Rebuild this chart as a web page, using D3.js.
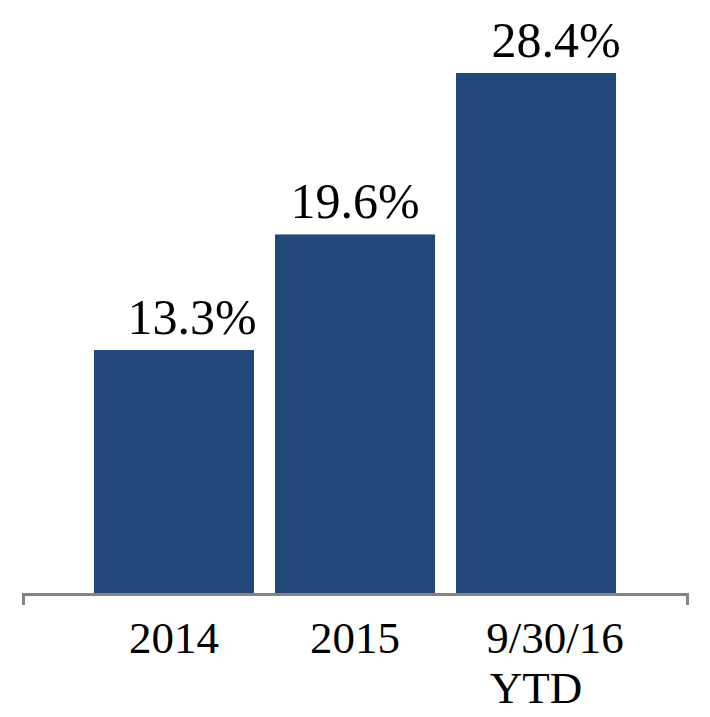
<!DOCTYPE html>
<html>
<head>
<meta charset="utf-8">
<script src="https://cdn.jsdelivr.net/npm/d3@7"></script>
<style>
  body { margin: 0; background: #fff; }
  text { font-family: "Liberation Serif", "Times New Roman", serif; fill: #000; }
</style>
</head>
<body>
<div id="chart"></div>
<script>
// Data
const categories = ['2014', '2015', '9/30/16\nYTD'];
const values = [13.3, 19.6, 28.4];
const valueLabels = ['13.3%', '19.6%', '28.4%'];

// label nudges (the source deck has its data labels slightly off centre)
const labelNudge = [18, 0, 20];

const width = 710;
const height = 717;
const margin = { top: 73, right: 23, bottom: 123, left: 23 };

const svg = d3.select('#chart').append('svg')
    .attr('width', width)
    .attr('height', height);

// x scale spans the whole axis line, bars sit inside with wide outer padding
const xScale = d3.scaleBand()
    .domain(categories)
    .range([margin.left, width - margin.right])
    .paddingInner(0.116)
    .paddingOuter(0.392);

const yScale = d3.scaleLinear()
    .domain([0, d3.max(values)])
    .range([height - margin.bottom - 0, margin.top]);

const rows = categories.map((c, i) => ({ cat: c, value: values[i], label: valueLabels[i], nudge: labelNudge[i] }));

// Bars
svg.selectAll('.bar')
    .data(rows)
    .enter().append('rect')
    .attr('class', 'bar')
    .attr('x', d => xScale(d.cat))
    .attr('y', d => yScale(d.value))
    .attr('width', xScale.bandwidth())
    .attr('height', d => yScale(0) - yScale(d.value))
    .attr('fill', '#22487a');

// Value labels
svg.selectAll('.val')
    .data(rows)
    .enter().append('text')
    .attr('class', 'val')
    .attr('x', d => xScale(d.cat) + xScale.bandwidth() / 2 + d.nudge)
    .attr('y', d => yScale(d.value) - 16)
    .attr('text-anchor', 'middle')
    .style('font-size', '50px')
    .text(d => d.label);

// x axis: grey line with short end ticks pointing down
const xAxis = svg.append('g')
    .attr('transform', `translate(0, ${yScale(0)})`)
    .call(d3.axisBottom(xScale).tickSize(0).tickSizeOuter(11));

xAxis.select('.domain')
    .attr('stroke', '#848484')
    .attr('stroke-width', 3);

xAxis.selectAll('.tick text').each(function(d) {
    const t = d3.select(this);
    const lines = d.split('\n');
    t.text(null)
        .attr('y', 59)
        .attr('dy', null)
        .attr('fill', '#000')
        .style('font-size', '45px')
        .style('font-family', '"Liberation Serif", "Times New Roman", serif');
    lines.forEach((line, i) => {
        t.append('tspan')
            .attr('x', lines.length > 1 && i === 0 ? 19 : 0)
            .attr('dy', i === 0 ? 0 : 50)
            .text(line);
    });
});
</script>
</body>
</html>
